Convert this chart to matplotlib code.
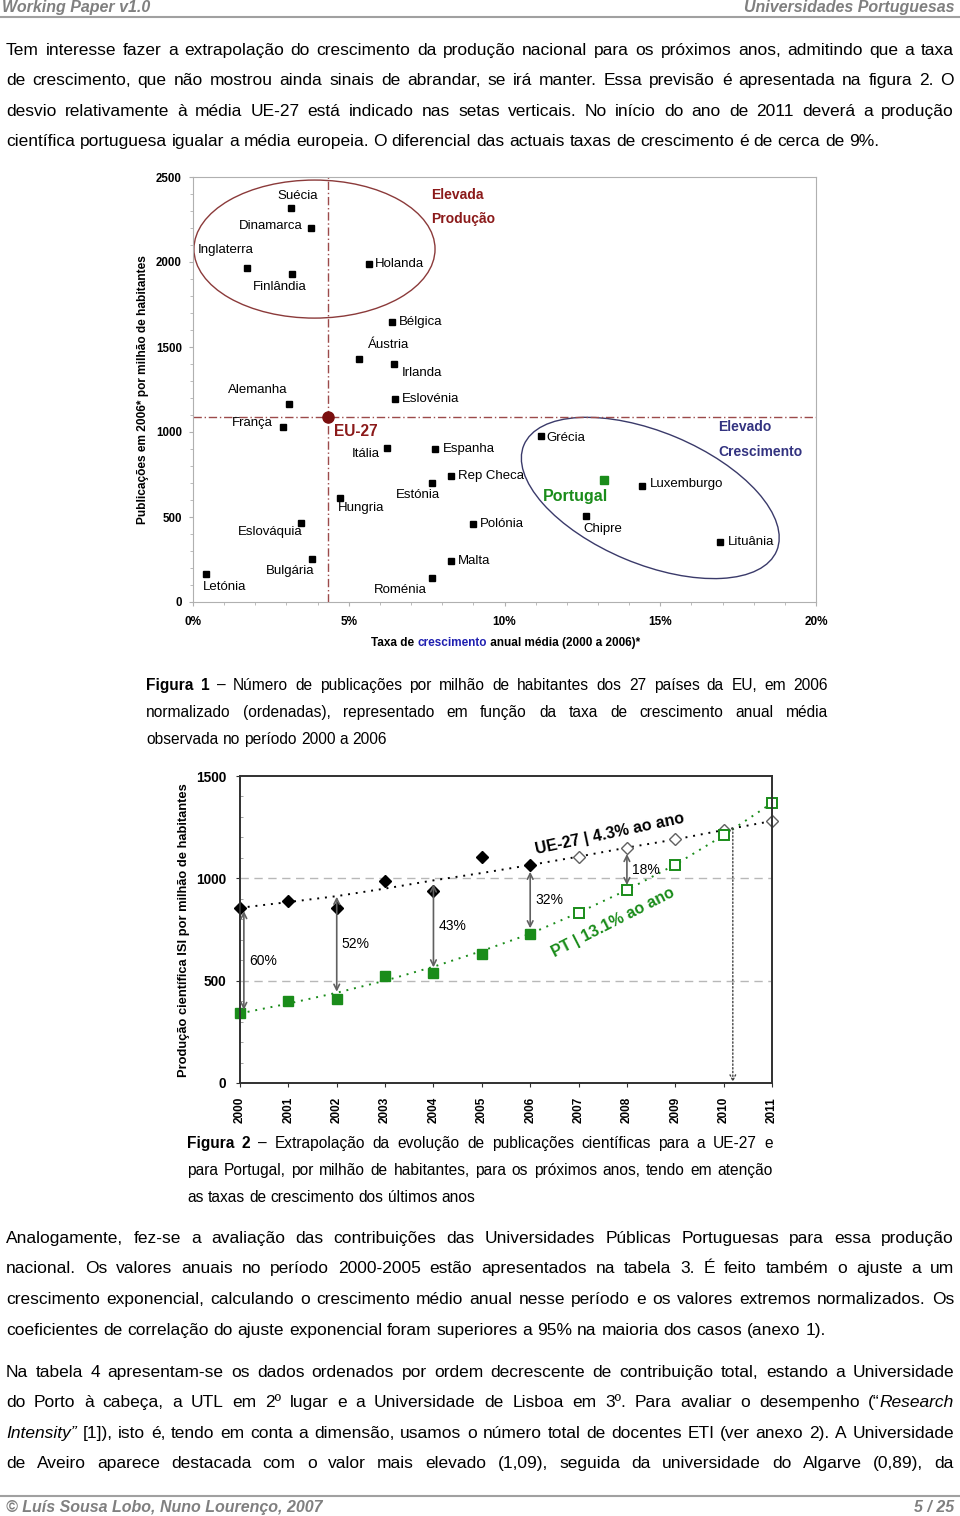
import numpy as np
import matplotlib.pyplot as plt
from matplotlib.lines import Line2D
from matplotlib.patches import Ellipse
from matplotlib.transforms import ScaledTranslation

# dados da figura 1 (taxa de crescimento %, publicações por milhão)
paises = ['Suécia', 'Dinamarca', 'Inglaterra', 'Finlândia', 'Holanda', 'Bélgica',
          'Áustria', 'Irlanda', 'Eslovénia', 'Alemanha', 'França', 'Itália',
          'Espanha', 'Rep Checa', 'Estónia', 'Hungria', 'Polónia', 'Eslováquia',
          'Bulgária', 'Malta', 'Letónia', 'Roménia', 'Grécia', 'Luxemburgo',
          'Chipre', 'Lituânia']
taxa = [3.15, 3.79, 1.72, 3.18, 5.65, 6.39, 5.32, 6.46, 6.48, 3.08, 2.88, 6.22,
        7.78, 8.27, 7.68, 4.72, 8.98, 3.47, 3.83, 8.27, 0.41, 7.66, 11.17, 14.42,
        12.63, 16.93]
publ = [2316, 2202, 1963, 1931, 1986, 1649, 1429, 1402, 1192, 1163, 1031, 908,
        900, 741, 702, 614, 461, 465, 255, 243, 163, 139, 978, 684, 504, 355]
pt_taxa, pt_publ = 13.19, 716
eu_taxa, eu_publ = 4.33, 1090

# posição dos rótulos (offset em pixels, alinhamento)
lbl_off = [(7, 12, 'center'), (-8, 2, 'right'), (-49, 18, 'left'), (-12, -13, 'center'),
           (6, 0, 'left'), (7, 0, 'left'), (30, 14, 'center'), (8, -9, 'left'),
           (7, 0, 'left'), (-31, 14, 'center'), (-30, 4, 'center'), (-21, -6, 'center'),
           (8, 0, 'left'), (7, 0, 'left'), (-14, -12, 'center'), (21, -10, 'center'),
           (7, 0, 'left'), (-31, -9, 'center'), (-22, -12, 'center'), (7, 0, 'left'),
           (19, -13, 'center'), (-31, -12, 'center'), (5, -2, 'left'), (8, 2, 'left'),
           (16, -13, 'center'), (8, 0, 'left')]

# dados da figura 2
anos = list(range(2000, 2012))
ue_obs = [856, 890, 856, 987, 939, 1102, 1065]
ue_proj = [1106, 1150, 1190, 1236, 1280]
pt_obs = [340, 400, 409, 524, 537, 630, 729]
pt_proj = [832, 943, 1067, 1210, 1368]
ue_tend = [856, 884, 913, 950, 990, 1026, 1065, 1106, 1150, 1190, 1236, 1280]
pt_tend = [340, 388, 441, 500, 568, 645, 729, 832, 943, 1067, 1210, 1368]
seta_x = [2000.08, 2002, 2004, 2006, 2008]
seta_topo = [840, 910, 970, 1032, 1119]
seta_base = [357, 446, 565, 756, 967]
seta_txt = ['60%', '52%', '43%', '32%', '18%']

W, H = 960, 1516
plt.rcParams['font.family'] = ['Liberation Sans', 'DejaVu Sans']
fig = plt.figure(figsize=(W / 100, H / 100), dpi=100)
renderer = fig.canvas.get_renderer()


def fx(x):
    return x / W


def fy(y):
    return 1 - y / H


def parse(linha):
    palavras = []
    it = bd = False
    for w in linha.split(' '):
        segs, cur = [], ''
        for ch in w:
            if ch in '~^':
                if cur:
                    segs.append((cur, it, bd))
                    cur = ''
                if ch == '~':
                    it = not it
                else:
                    bd = not bd
            else:
                cur += ch
        if cur:
            segs.append((cur, it, bd))
        palavras.append(segs)
    return palavras


def largura(txt, it, bd, size):
    t = fig.text(0, 0, txt, fontsize=size, fontstyle='italic' if it else 'normal',
                 fontweight='bold' if bd else 'normal')
    w = t.get_window_extent(renderer).width
    t.remove()
    return w


def linha_texto(linha, y, x0, x1, size, justificar=True):
    palavras = parse(linha)
    larg = [[largura(s, it, bd, size) for s, it, bd in p] for p in palavras]
    tot = [sum(l) for l in larg]
    esp = largura('a a', False, False, size) - largura('aa', False, False, size)
    gap = (x1 - x0 - sum(tot)) / (len(palavras) - 1) if justificar else esp
    x = x0
    for p, l in zip(palavras, larg):
        for (s, it, bd), w in zip(p, l):
            fig.text(fx(x), fy(y), s, fontsize=size, va='baseline', ha='left',
                     fontstyle='italic' if it else 'normal',
                     fontweight='bold' if bd else 'normal')
            x += w
        x += gap


# cabeçalho e rodapé
cinza = '#808080'
narrow = ['Liberation Sans Narrow', 'Liberation Sans']
fig.text(fx(2), fy(12), 'Working Paper v1.0', family=narrow, fontsize=11.5,
         fontstyle='italic', fontweight='bold', color=cinza, va='baseline')
fig.text(fx(954), fy(12), 'Universidades Portuguesas', family=narrow, fontsize=11.5,
         fontstyle='italic', fontweight='bold', color=cinza, va='baseline', ha='right')
fig.add_artist(Line2D([fx(0), fx(960)], [fy(17), fy(17)], color='#a0a0a0', lw=1.5))
fig.add_artist(Line2D([fx(0), fx(960)], [fy(1496), fy(1496)], color='#a0a0a0', lw=1.5))
fig.text(fx(6), fy(1512), '© Luís Sousa Lobo, Nuno Lourenço, 2007', family=narrow,
         fontsize=11.5, fontstyle='italic', fontweight='bold', color=cinza, va='baseline')
fig.text(fx(954), fy(1512), '5 / 25', family=narrow, fontsize=11.5,
         fontstyle='italic', fontweight='bold', color=cinza, va='baseline', ha='right')

# texto
fs = 12.5
par1 = ['Tem interesse fazer a extrapolação do crescimento da produção nacional para os próximos anos, admitindo que a taxa',
        'de crescimento, que não mostrou ainda sinais de abrandar, se irá manter. Essa previsão é apresentada na figura 2. O',
        'desvio relativamente à média UE-27 está indicado nas setas verticais. No início do ano de 2011 deverá a produção',
        'científica portuguesa igualar a média europeia. O diferencial das actuais taxas de crescimento é de cerca de 9%.']
for i, (l, y) in enumerate(zip(par1, [50, 80, 111, 141])):
    linha_texto(l, y + 5, 6, 954, fs, i < 3)

par2 = ['Analogamente, fez-se a avaliação das contribuições das Universidades Públicas Portuguesas para essa produção',
        'nacional. Os valores anuais no período 2000-2005 estão apresentados na tabela 3. É feito também o ajuste a um',
        'crescimento exponencial, calculando o crescimento médio anual nesse período e os valores extremos normalizados. Os',
        'coeficientes de correlação do ajuste exponencial foram superiores a 95% na maioria dos casos (anexo 1).']
for i, (l, y) in enumerate(zip(par2, [1238, 1268, 1299, 1330])):
    linha_texto(l, y + 5, 6, 954, fs, i < 3)

par3 = ['Na tabela 4 apresentam-se os dados ordenados por ordem decrescente de contribuição total, estando a Universidade',
        'do Porto à cabeça, a UTL em 2º lugar e a Universidade de Lisboa em 3º. Para avaliar o desempenho (“~Research~',
        '~Intensity”~ [1]), isto é, tendo em conta a dimensão, usamos o número total de docentes ETI (ver anexo 2). A Universidade',
        'de Aveiro aparece destacada com o valor mais elevado (1,09), seguida da universidade do Algarve (0,89), da']
for l, y in zip(par3, [1372, 1402, 1433, 1463]):
    linha_texto(l, y + 5, 6, 954, fs, True)

fc = 11.2
cap1 = ['^Figura 1^ – Número de publicações por milhão de habitantes dos 27 países da EU, em 2006',
        'normalizado (ordenadas), representado em função da taxa de crescimento anual média',
        'observada no período 2000 a 2006']
for i, (l, y) in enumerate(zip(cap1, [685, 712, 739])):
    linha_texto(l, y + 5, 146, 828, fc, i < 2)

cap2 = ['^Figura 2^ – Extrapolação da evolução de publicações científicas para a UE-27 e',
        'para Portugal, por milhão de habitantes, para os próximos anos, tendo em atenção',
        'as taxas de crescimento dos últimos anos']
for i, (l, y) in enumerate(zip(cap2, [1143, 1170, 1197])):
    linha_texto(l, y + 5, 187, 773, fc, i < 2)

# ---------- Figura 1 ----------
vermelho = '#8b1a1a'
azul = '#333380'
verde = '#1a8c1a'
ax = fig.add_axes([fx(193), fy(602), 623 / W, 425 / H])
ax.set_xlim(0, 20)
ax.set_ylim(0, 2500)
for s in ax.spines.values():
    s.set_color('#b0b0b0')
ax.set_xticks([0, 5, 10, 15, 20])
ax.set_xticklabels(['0%', '5%', '10%', '15%', '20%'], fontweight='bold', fontsize=8.5)
ax.set_yticks([0, 500, 1000, 1500, 2000, 2500])
ax.set_yticklabels(['0', '500', '1000', '1500', '2000', '2500'], fontweight='bold', fontsize=8.3)
ax.set_xticks(np.arange(0, 21, 1), minor=True)
ax.set_yticks(np.arange(0, 2501, 100), minor=True)
ax.tick_params(which='both', color='#b0b0b0', direction='out')
ax.tick_params(which='major', length=3, pad=7)
ax.tick_params(which='minor', length=2)
ax.tick_params(axis='y', pad=5)

ax.axvline(eu_taxa, color='#9c4a4a', lw=1, ls=(0, (6, 2, 1, 2)))
ax.axhline(eu_publ, color='#9c4a4a', lw=1, ls=(0, (6, 2, 1, 2)))
ax.plot(taxa, publ, 's', color='black', ms=5, clip_on=False)
ax.plot([pt_taxa], [pt_publ], 's', color=verde, ms=6)
ax.plot([eu_taxa], [eu_publ], 'o', color='#7a0e0e', ms=8)

for nome, x, y, (dx, dy, ha) in zip(paises, taxa, publ, lbl_off):
    ax.annotate(nome, (x, y), xytext=(dx, dy), textcoords='offset pixels',
                ha=ha, va='center', fontsize=9.5)
ax.annotate('Portugal', (pt_taxa, pt_publ), xytext=(-28, -16), textcoords='offset pixels',
            ha='center', va='center', fontsize=11.5, fontweight='bold', color=verde)
ax.annotate('EU-27', (eu_taxa, eu_publ), xytext=(6, -15), textcoords='offset pixels',
            ha='left', va='center', fontsize=11.2, fontweight='bold', color=vermelho)

ax.add_patch(Ellipse((3.9, 2076), 7.74, 812, fill=False, ec='#8b3a3a', lw=1))
tr = fig.dpi_scale_trans + ScaledTranslation(14.68, 612, ax.transData)
ax.add_patch(Ellipse((0, 0), 2.74, 1.32, angle=-22.7, fill=False, ec='#3a3a6a', lw=1,
                     transform=tr))

fig.text(fx(431), fy(195), 'Elevada', color=vermelho, fontweight='bold', fontsize=10, va='center')
fig.text(fx(431), fy(219), 'Produção', color=vermelho, fontweight='bold', fontsize=10, va='center')
fig.text(fx(718), fy(427), 'Elevado', color=azul, fontweight='bold', fontsize=10, va='center')
fig.text(fx(718), fy(452), 'Crescimento', color=azul, fontweight='bold', fontsize=10, va='center')

fig.text(fx(143), fy(390), 'Publicações em 2006* por milhão de habitantes', rotation=90,
         ha='center', va='center', fontweight='bold', fontsize=8.6)

# rótulo do eixo x com "crescimento" a azul
partes = [('Taxa de ', 'black'), ('crescimento', '#1f1fb0'), (' anual média (2000 a 2006)*', 'black')]
fsx = 8.5
larg_p = [largura(p.replace(' ', '\u00a0'), False, True, fsx) for p, c in partes]
x = 506 - sum(larg_p) / 2
for (p, c), w in zip(partes, larg_p):
    fig.text(fx(x), fy(646), p.replace(' ', '\u00a0'), color=c, fontweight='bold',
             fontsize=fsx, va='baseline', ha='left')
    x += w

# ---------- Figura 2 ----------
ax2 = fig.add_axes([fx(240), fy(1083), 532 / W, 307 / H])
ax2.set_xlim(2000, 2011)
ax2.set_ylim(0, 1500)
for s in ax2.spines.values():
    s.set_color('#303030')
    s.set_linewidth(1.4)
ax2.set_xticks(anos)
ax2.set_xticklabels([str(a) for a in anos], rotation=90, fontweight='bold', fontsize=8.5)
ax2.set_yticks([0, 500, 1000, 1500])
ax2.set_yticklabels(['0', '500', '1000', '1500'], fontweight='bold', fontsize=9.8)
ax2.set_yticks(np.arange(0, 1501, 100), minor=True)
ax2.tick_params(which='major', length=3, pad=7, color='#303030')
ax2.tick_params(which='minor', length=2, direction='in', color='#909090')
for v in [500, 1000]:
    ax2.axhline(v, color='#b8b8b8', lw=1, ls=(0, (6, 4)))

ax2.plot(anos, ue_tend, color='black', lw=1.4, ls=(0, (1, 3)))
ax2.plot(anos, pt_tend, color=verde, lw=1.4, ls=(0, (1, 3)))
ax2.plot(anos[:7], ue_obs, 'D', color='black', ms=6.5, clip_on=False)
ax2.plot(anos[7:], ue_proj, 'D', mfc='white', mec='#606060', ms=6.5, mew=1, clip_on=False)
ax2.plot(anos[:7], pt_obs, 's', color=verde, ms=6.5, clip_on=False)
ax2.plot(anos[7:], pt_proj, 's', mfc='white', mec=verde, ms=6.5, mew=1.4, clip_on=False)

for x, t, b, s in zip(seta_x, seta_topo, seta_base, seta_txt):
    ax2.annotate('', xy=(x, b), xytext=(x, t),
                 arrowprops=dict(arrowstyle='<->', color='#606060', lw=1.2,
                                 shrinkA=0, shrinkB=0))
    ax2.annotate(s, (x, (t + b) / 2), xytext=(5, 0), textcoords='offset pixels',
                 ha='left', va='center', fontsize=10)
ax2.annotate('', xy=(2010.19, 5), xytext=(2010.19, 1244),
             arrowprops=dict(arrowstyle='->', color='#404040', lw=1, ls=':',
                             shrinkA=0, shrinkB=0))

ax2.text(2007.65, 1216, 'UE-27 | 4.3% ao ano', rotation=12, rotation_mode='anchor',
         ha='center', va='center', fontsize=11.5, fontweight='bold', color='black')
ax2.text(2007.71, 782, 'PT | 13.1% ao ano', rotation=27, rotation_mode='anchor',
         ha='center', va='center', fontsize=11.5, fontweight='bold', color=verde)

fig.text(fx(184), fy(930), 'Produção científica ISI por milhão de habitantes', rotation=90,
         ha='center', va='center', fontweight='bold', fontsize=9.3)

fig.savefig('out.png', dpi=100)
